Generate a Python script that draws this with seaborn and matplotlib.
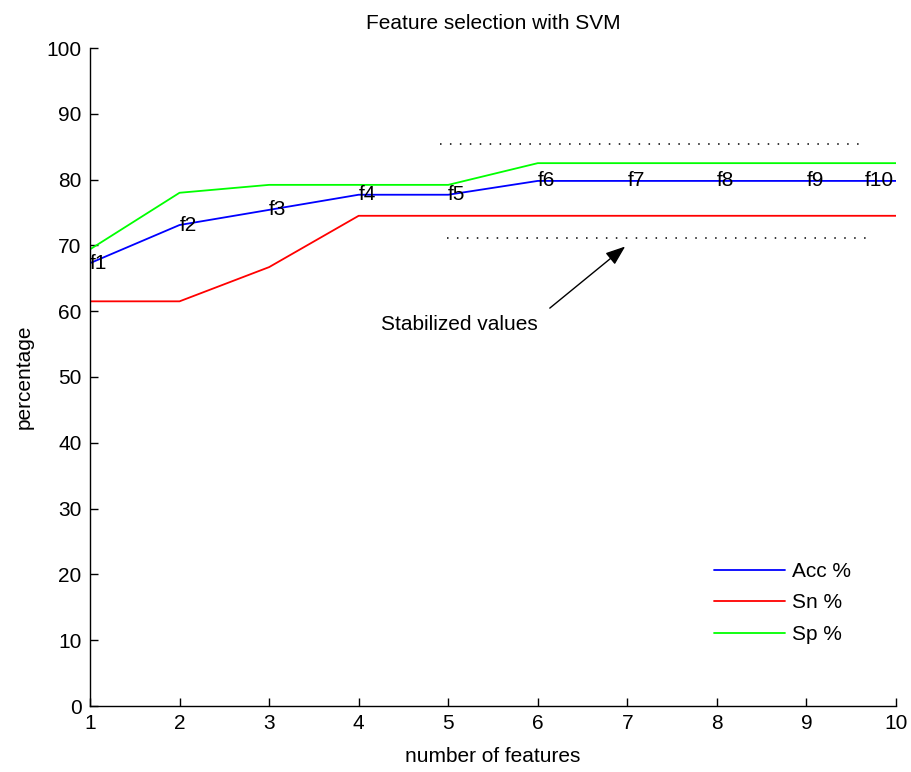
import matplotlib
matplotlib.use("Agg")
import matplotlib.pyplot as plt
import seaborn as sns
import pandas as pd

n_features = [1, 2, 3, 4, 5, 6, 7, 8, 9, 10]
acc = [67.3, 73.1, 75.4, 77.7, 77.7, 79.8, 79.8, 79.8, 79.8, 79.8]
sn = [61.5, 61.5, 66.7, 74.5, 74.5, 74.5, 74.5, 74.5, 74.5, 74.5]
sp = [69.4, 78.0, 79.2, 79.2, 79.2, 82.5, 82.5, 82.5, 82.5, 82.5]
feature_labels = ["f1", "f2", "f3", "f4", "f5", "f6", "f7", "f8", "f9", "f10"]
label_x = [1, 2, 3, 4, 5, 6, 7, 8, 9, 9.65]

series_names = ["Acc %", "Sn %", "Sp %"]
series_colors = ["#0000ff", "#ff0000", "#00ff00"]

# dotted band marking where the curves level off
band_upper = 85.4
band_lower = 71.2
band_upper_x = (4.91, 9.62)
band_lower_x = (4.99, 9.69)

sns.set_style("white", rc={"text.color": "black", "axes.labelcolor": "black",
                           "xtick.color": "black", "ytick.color": "black"})
plt.rcParams["font.family"] = ["Liberation Sans", "DejaVu Sans"]
FS = 15

df = pd.DataFrame({
    "features": n_features * 3,
    "value": acc + sn + sp,
    "series": [series_names[0]] * 10 + [series_names[1]] * 10 + [series_names[2]] * 10,
})

fig = plt.figure(figsize=(9.11, 7.72), dpi=100)
ax = fig.add_axes([90 / 911, 1 - 706 / 772, (896 - 90) / 911, (706 - 48) / 772])

sns.lineplot(data=df, x="features", y="value", hue="series",
             palette=dict(zip(series_names, series_colors)),
             linewidth=1.3, ax=ax, legend=True)

for lx, ly, txt in zip(label_x, acc, feature_labels):
    ax.text(lx, ly, txt, ha="left", va="center", fontsize=FS)

ax.plot(band_upper_x, [band_upper, band_upper], color="black",
        linestyle=(0, (1, 5.5)), linewidth=1.1)
ax.plot(band_lower_x, [band_lower, band_lower], color="black",
        linestyle=(0, (1, 5.5)), linewidth=1.1)

ax.annotate("", xy=(7.0, 70.1), xytext=(6.11, 60.2),
            arrowprops=dict(arrowstyle="-|>,head_length=1.2,head_width=0.45",
                            color="black", lw=1.0))
ax.text(5.13, 58.0, "Stabilized values", ha="center", va="center", fontsize=FS)

ax.set_xlim(1, 10)
ax.set_ylim(0, 100)
ax.set_xticks(range(1, 11))
ax.set_yticks(range(0, 101, 10))
ax.tick_params(direction="in", length=6, width=1, labelsize=FS, color="black",
               labelcolor="black", bottom=True, left=True, pad=6)
for side in ["top", "right"]:
    ax.spines[side].set_visible(False)
for side in ["left", "bottom"]:
    ax.spines[side].set_color("black")
    ax.spines[side].set_linewidth(1)

ax.set_xlabel("number of features", fontsize=FS, labelpad=10)
ax.set_ylabel("percentage", fontsize=FS, labelpad=9)
ax.set_title("Feature selection with SVM", fontsize=FS, pad=14)

leg = ax.legend(loc="upper left", bbox_to_anchor=((714 - 90) / 806, (706 - 562) / 658),
                frameon=False, fontsize=FS, handlelength=3.4, handletextpad=0.35,
                labelspacing=0.6, borderpad=0, borderaxespad=0, title=None)
for line in leg.get_lines():
    line.set_linewidth(1.3)

fig.savefig("out.png", dpi=100)
